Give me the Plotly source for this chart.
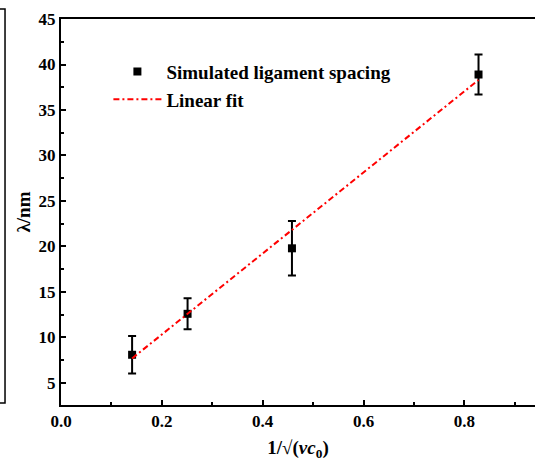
import plotly.graph_objects as go

# Data
x_vals = [0.141, 0.251, 0.458, 0.828]
y_vals = [8.1, 12.6, 19.8, 38.9]
y_err = [2.05, 1.7, 3.0, 2.2]

fit_x = [0.141, 0.828]
fit_y = [7.7, 38.3]

x_ticks = [0.0, 0.2, 0.4, 0.6, 0.8]
y_ticks = [5, 10, 15, 20, 25, 30, 35, 40, 45]

FONT = "Liberation Serif"

fig = go.Figure()
fig.add_trace(go.Scatter(
    x=x_vals, y=y_vals, mode="markers", name="Simulated ligament spacing",
    marker=dict(symbol="square", size=8, color="black"),
    error_y=dict(type="data", array=y_err, visible=True, color="black",
                 thickness=2, width=4),
))
fig.add_trace(go.Scatter(
    x=fit_x, y=fit_y, mode="lines", name="Linear fit",
    line=dict(color="red", width=2, dash="6px,3px,2px,3px"),
))

# fragment of neighbouring panel frame on the left edge
fig.add_shape(type="path", xref="paper", yref="paper",
              path="M -0.14,1.0259 L -0.1181,1.0259 L -0.1181,0.0052 L -0.14,0.0052",
              line=dict(color="black", width=1.5))

fig.update_layout(
    width=535, height=461,
    margin=dict(l=61, r=0, t=19, b=56),
    paper_bgcolor="white", plot_bgcolor="white",
    font=dict(family=FONT, color="black"),
    showlegend=True,
    legend=dict(x=0.1, y=0.913, xanchor="left", yanchor="top",
                bgcolor="rgba(0,0,0,0)",
                font=dict(family=FONT, size=19, color="black", weight="bold"),
                itemwidth=48, tracegroupgap=0),
    xaxis=dict(
        range=[0, 0.94], tickvals=x_ticks, ticktext=["%.1f" % v for v in x_ticks],
        automargin=False,
        ticks="inside", ticklen=5, tickwidth=1.5, tickcolor="black",
        minor=dict(dtick=0.1, tick0=0, ticks="inside", ticklen=3, tickwidth=1.5, tickcolor="black"),
        showline=True, linewidth=2, linecolor="black", mirror=True,
        showgrid=False, zeroline=False,
        tickfont=dict(family=FONT, size=17, weight="bold"),
        title=dict(text="1/√(<i>vc</i><sub>0</sub>)", standoff=12,
                   font=dict(family=FONT, size=19, weight="bold")),
    ),
    yaxis=dict(
        range=[2.58, 45], tickvals=y_ticks,
        automargin=False,
        ticks="inside", ticklen=5, tickwidth=1.5, tickcolor="black",
        minor=dict(dtick=2.5, tick0=0, ticks="inside", ticklen=3, tickwidth=1.5, tickcolor="black"),
        showline=True, linewidth=2, linecolor="black", mirror=False,
        showgrid=False, zeroline=False,
        tickfont=dict(family=FONT, size=17, weight="bold"),
        title=dict(text="λ/nm", standoff=3,
                   font=dict(family=FONT, size=19, weight="bold")),
    ),
)

fig.write_html("out.html", config={"displayModeBar": False},
               post_script="document.body.style.margin='0';")
